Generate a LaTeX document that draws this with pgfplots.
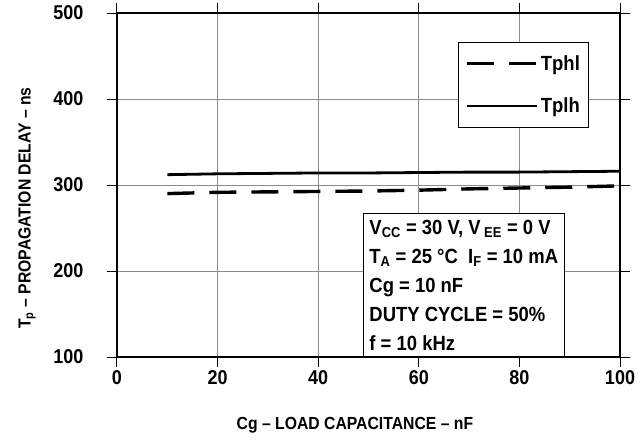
\documentclass[border=0pt]{standalone}
\usepackage{pgfplots}
\pgfplotsset{compat=1.18}
\usepackage{fontspec}
\setmainfont{Liberation Sans}
\newfontfamily\cf{Liberation Sans Bold}[FakeStretch=0.9, Ligatures=TeX]
\newcommand{\ff}[1]{\cf\fontsize{#1}{#1}\selectfont}
\begin{document}
\begin{tikzpicture}
\begin{axis}[
  name=ax,
  scale only axis,
  width=503pt, height=344pt,
  xmin=0, xmax=100, ymin=100, ymax=500,
  xtick={0,20,...,100}, ytick={100,200,...,500},
  grid=major,
  grid style={black!45, line width=0.9pt},
  axis line style={line width=1.3pt},
  tick style={black, line width=1pt},
  tick align=outside,
  major tick length=10pt,
  /pgf/number format/assume math mode=true,
  ticklabel style={font=\ff{20}},
  yticklabel style={xshift=-20pt},
  xlabel={Cg – LOAD CAPACITANCE – nF},
  ylabel={T\textsubscript{p} – PROPAGATION DELAY – ns},
  label style={font=\ff{17.5}},
  xlabel style={at={(rel axis cs:0.473,0)}, anchor=center, yshift=-68pt},
  ylabel style={at={(rel axis cs:-0.179,0.433)}, anchor=center},
  legend style={at={(rel axis cs:0.678,0.916)}, anchor=north west,
    draw=black, line width=1pt, fill=white,
    font=\ff{20.5},
    inner xsep=7pt, inner ysep=11pt, row sep=22pt},
  legend cell align=left,
  legend image code/.code={\draw[#1] (0pt,0pt) -- (70pt,0pt);},
]
\addplot[black, line width=3.4pt, dash pattern=on 27pt off 15pt] coordinates {
 (10,290) (20,291.5) (30,292) (40,292.5) (50,293) (60,294) (70,295.5) (80,296.5) (90,297.5) (100,299)};
\addlegendentry{Tphl}
\addplot[black, line width=2.8pt] coordinates {
 (10,312) (20,313) (30,313.5) (40,314) (50,314) (60,314.5) (70,315) (80,315) (90,315.5) (100,316)};
\addlegendentry{Tplh}
\node[draw=black, line width=1pt, fill=white, anchor=south west, align=left,
  font=\cf\fontsize{20.5}{29}\selectfont, inner xsep=6pt, inner ysep=6pt]
  at (rel axis cs:0.489,0)
  {V\textsubscript{CC} = 30 V, V\,\textsubscript{EE} = 0 V\\
   T\textsubscript{A} = 25 °C\ \ I\textsubscript{F} = 10 mA\\
   Cg = 10 nF\\
   DUTY CYCLE = 50\%\\
   f = 10 kHz};
\end{axis}
\pgfresetboundingbox
\path ([shift={(-117pt,-84pt)}]ax.south west) rectangle ([shift={(24pt,13pt)}]ax.north east);
\end{tikzpicture}
\end{document}
